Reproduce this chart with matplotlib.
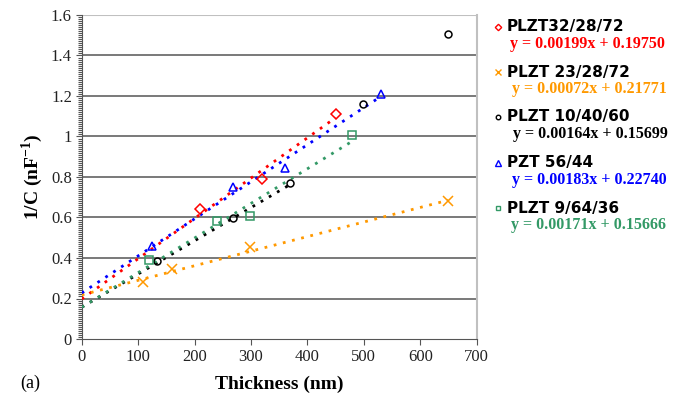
import matplotlib
matplotlib.use("Agg")
from matplotlib import pyplot as plt
from matplotlib.ticker import MultipleLocator
import numpy as np

# DATA
names = ["PLZT32/28/72", "PLZT 23/28/72", "PLZT 10/40/60", "PZT 56/44", "PLZT 9/64/36"]
equations = ["y = 0.00199x + 0.19750", "y = 0.00072x + 0.21771",
             "y = 0.00164x + 0.15699", "y = 0.00183x + 0.22740",
             "y = 0.00171x + 0.15666"]
slopes = [0.00199, 0.00072, 0.00164, 0.00183, 0.00171]
intercepts = [0.19750, 0.21771, 0.15699, 0.22740, 0.15666]

plzt32_x = [210, 320, 450]
plzt32_y = [0.64, 0.79, 1.11]
plzt23_x = [109, 160, 299, 650]
plzt23_y = [0.283, 0.347, 0.456, 0.68]
plzt10_x = [134, 269, 369, 499, 650]
plzt10_y = [0.385, 0.596, 0.772, 1.159, 1.505]
pzt56_x = [125, 269, 360, 531]
pzt56_y = [0.459, 0.749, 0.846, 1.21]
plzt9_x = [119, 239, 299, 479]
plzt9_y = [0.39, 0.584, 0.607, 1.007]

# end of each trend line (nm)
fit_end = [450, 650, 370, 531, 479]

xs = [plzt32_x, plzt23_x, plzt10_x, pzt56_x, plzt9_x]
ys = [plzt32_y, plzt23_y, plzt10_y, pzt56_y, plzt9_y]

# STYLE
colors = ["#ff0000", "#ff9900", "#000000", "#0000ff", "#339966"]
markers = ["D", "x", "o", "^", "s"]
msizes = [5, 7, 5, 6, 5.5]
legend_y = [27, 72, 117, 163, 208]   # pixels from top
eq_dy = 17
eq_x = [510, 512, 513, 512, 511]

serif = "Liberation Serif"
plt.rcParams["mathtext.fontset"] = "custom"
plt.rcParams["mathtext.rm"] = serif
plt.rcParams["mathtext.bf"] = serif + ":bold"

W, H = 683, 407
fig = plt.figure(figsize=(W / 100, H / 100), dpi=100)
ax = fig.add_axes([81.7 / W, 1 - 339 / H, (476.7 - 81.7) / W, (339 - 15) / H])

for x, y, c, m, ms, a, b, xe in zip(xs, ys, colors, markers, msizes, slopes, intercepts, fit_end):
    xf = np.array([0, xe])
    ax.plot(xf, a * xf + b, linestyle=(0, (1, 2.4)), color=c, lw=2.0, zorder=3)
    if m == "x":
        ax.plot(x, y, linestyle="none", marker=m, color=c, ms=ms, mew=1.1, zorder=4)
    else:
        ax.plot(x, y, linestyle="none", marker=m, mfc="none", mec=c, ms=ms, mew=1.1, zorder=4)

ax.set_xlim(0, 700)
ax.set_ylim(0, 1.6)
ax.xaxis.set_major_locator(MultipleLocator(100))
ax.set_yticks(np.arange(0, 1.61, 0.2))
ax.set_yticklabels(["0", "0.2", "0.4", "0.6", "0.8", "1", "1.2", "1.4", "1.6"])
ax.yaxis.set_minor_locator(MultipleLocator(0.01))

for yv in np.arange(0.2, 1.5, 0.2):
    ax.axhline(yv, color="#555555", lw=1.1, zorder=1)
ax.axhline(1.6, color="#c0c0c0", lw=1.5, zorder=1)

ax.spines["top"].set_visible(False)
ax.spines["right"].set_color("#c0c0c0")
ax.spines["right"].set_linewidth(1.5)
ax.spines["left"].set_color("#555555")
ax.spines["bottom"].set_color("#555555")

ax.tick_params(axis="both", which="major", direction="out", length=4, color="#555555",
               labelsize=12, pad=3)
ax.tick_params(axis="y", which="minor", direction="out", length=3, color="#555555", width=0.8)
for lab in ax.get_xticklabels() + ax.get_yticklabels():
    lab.set_fontfamily(serif)
    lab.set_color("#222222")

ax.set_xlabel("Thickness (nm)", fontfamily=serif, fontweight="bold", fontsize=14, labelpad=8)
ax.set_ylabel("1/C (nF$^{\\mathbf{-1}}$)", fontfamily=serif, fontweight="bold", fontsize=14,
              labelpad=4)

fig.text(20 / W, 1 - 383 / H, "(a)", fontfamily=serif, fontsize=13, va="center", ha="left")

# legend drawn by hand
for i in range(5):
    yp = 1 - legend_y[i] / H
    fig.lines.append(plt.Line2D([498 / W], [yp], transform=fig.transFigure, marker=markers[i],
                                ms=msizes[i] * 0.65, mfc="none", mec=colors[i], color=colors[i],
                                mew=1.0, linestyle="none"))
    fig.text(507 / W, yp, names[i], fontfamily="DejaVu Sans", fontweight="bold", fontsize=11,
             va="center", ha="left", color="black")
    fig.text(eq_x[i] / W, 1 - (legend_y[i] + eq_dy) / H, equations[i], fontfamily=serif,
             fontweight="bold", fontsize=11.5, va="center", ha="left", color=colors[i])

fig.savefig("out.png", dpi=100)
